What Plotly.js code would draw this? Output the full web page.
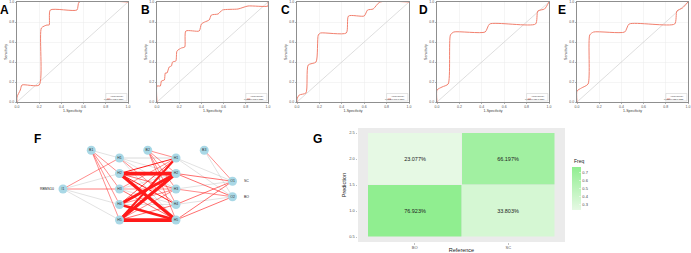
<!DOCTYPE html>
<html><head><meta charset="utf-8">
<script src="https://cdn.plot.ly/plotly-3.0.1.min.js"></script>
<style>html,body{margin:0;padding:0;background:#fff}#chart{width:691px;height:253px}</style>
</head><body><div id="chart"></div>
<script>
// ---------- ROC data (1-Specificity, Sensitivity) ----------
const fprA = [0,0,0.03,0.045,0.2,0.22,0.27,0.29,0.3,0.54,0.56,1];
const tprA = [0,0.05,0.12,0.17,0.17,0.74,0.77,0.77,0.92,0.92,1,1];
const fprB = [0,0,0.03,0.04,0.066,0.075,0.09,0.11,0.13,0.14,0.17,0.18,0.22,0.25,0.26,0.38,0.40,0.43,0.47,0.49,0.55,0.59,0.73,0.82,1,1];
const tprB = [0,0.16,0.16,0.21,0.22,0.29,0.29,0.35,0.36,0.40,0.41,0.51,0.54,0.55,0.71,0.71,0.78,0.80,0.82,0.87,0.88,0.92,0.93,0.96,0.96,1];
const fprC = [0,0,0.02,0.08,0.1,0.17,0.19,0.21,0.44,0.46,0.6,0.63,0.68,0.74,1];
const tprC = [0,0.03,0.07,0.09,0.37,0.40,0.67,0.69,0.69,0.86,0.86,0.92,0.93,1,1];
const fprD = [0,0,0.045,0.1,0.12,0.15,0.43,0.47,0.88,0.9,0.96,1];
const tprD = [0,0.12,0.15,0.18,0.67,0.70,0.70,0.78,0.78,0.91,0.93,1];
const fprE = [0,0,0.04,0.1,0.115,0.15,0.43,0.47,0.88,0.9,0.95,1];
const tprE = [0,0.11,0.14,0.18,0.67,0.70,0.70,0.78,0.78,0.91,0.94,1];
const rocLetters = ['A','B','C','D','E'];
const aucLabels = ['0.779(0.672-0.886)','0.753(0.668-0.838)','0.762(0.667-0.857)','0.726(0.621-0.831)','0.727(0.622-0.832)'];
const rocTicks = [0,0.2,0.4,0.6,0.8,1];
const rocTickText = ['0.0','0.2','0.4','0.6','0.8','1.0'];

// ---------- Neural network (panel F) ----------
const nodeNames = ['I1','B1','H1','H2','H3','H4','H5','B2','H1','H2','H3','H4','H5','B3','O1','O2'];
const nodeLayer = [0,0.5,1,1,1,1,1,1.5,2,2,2,2,2,2.5,3,3];
const nodeRow   = [3,0.5,1,2,3,4,5,0.5,1,2,3,4,5,0.5,2.5,3.5];
const inputLabel = ['RBMS10'];
const outputLabels = ['SC','BO'];
const wI1 = [0.3,-0.3,0.45,-0.3,-0.3];          // I1 -> hidden1
const wB1 = [-0.3,0.4,0.4,0.4,0.4];             // B1 -> hidden1
const wH1H2 = [                                   // hidden1 (rows) -> hidden2 (cols)
  [-0.5,-0.4,-0.4,0.3,-0.3],
  [0.8,3.0,0.5,0.8,2.6],
  [0.4,-0.3,0.4,-0.4,0.5],
  [0.6,2.5,0.3,-0.3,2.0],
  [1.5,2.6,0.4,0.5,3.0]
];
const wB2 = [0.4,0.35,0.35,0.4,0.4];            // B2 -> hidden2
const wH2O = [[-0.3,-0.3],[0.5,0.5],[-0.3,0.4],[0.5,-0.3],[0.5,0.5]]; // hidden2 -> outputs
const wB3 = [0.4,-0.3];                          // B3 -> outputs

// ---------- Confusion matrix (panel G) ----------
const refCats = ['BO','SC'];
const predLevels = [1,2];
const freq = [[0.76923,0.33803],[0.23077,0.66197]]; // rows: prediction 1,2 ; cols: BO, SC
const freqTicks = [0.3,0.4,0.5,0.6,0.7];

const W = 691, H = 253;
const traces = [];
const annotations = [];
const shapes = [];
const layout = {
  width: W, height: H, margin:{l:0,r:0,t:0,b:0},
  paper_bgcolor:'#fff', plot_bgcolor:'rgba(0,0,0,0)', showlegend:false,
  font:{family:'Liberation Sans, Arial, sans-serif', color:'#333'}
};

// ROC panels
const rocData = [[fprA,tprA],[fprB,tprB],[fprC,tprC],[fprD,tprD],[fprE,tprE]];
const rocPx = [[17,128],[157,268],[297,409],[437,549],[577,688]];
const letterPx = [4.5,145,285,423,562];
rocData.forEach((d,i)=>{
  const s = i===0 ? '' : String(i+1);
  const xa = 'x'+s, ya = 'y'+s;
  traces.push({type:'scatter', mode:'lines', x:[0,1], y:[0,1], xaxis:xa, yaxis:ya,
    line:{color:'#c8c8c8', width:0.6}, hoverinfo:'skip'});
  traces.push({type:'scatter', mode:'lines', x:d[0], y:d[1], xaxis:xa, yaxis:ya,
    line:{color:'#f2806e', width:1, shape:'spline', smoothing:0.6}});
  const common = {range:[0,1], tickvals:rocTicks, ticktext:rocTickText, tickfont:{size:3.5, color:'#555'},
    showgrid:true, gridcolor:'#ececec', gridwidth:0.5, zeroline:false, showline:true, mirror:true,
    linecolor:'#444', linewidth:0.6, ticks:'outside', ticklen:1.5, tickwidth:0.4, tickcolor:'#444', fixedrange:true};
  layout['xaxis'+s] = Object.assign({}, common, {domain:[rocPx[i][0]/W, rocPx[i][1]/W], anchor:ya,
    title:{text:'1-Specificity', font:{size:3.5, color:'#333'}, standoff:1}});
  layout['yaxis'+s] = Object.assign({}, common, {domain:[1-102/H, 1-2/H], anchor:xa,
    title:{text:'Sensitivity', font:{size:3.5, color:'#333'}, standoff:1}});
  // legend box
  shapes.push({type:'rect', xref:xa+' domain', yref:ya+' domain', x0:0.8, x1:0.99, y0:0.01, y1:0.085,
    line:{color:'#bbb', width:0.4}, fillcolor:'#fff'});
  annotations.push({xref:xa+' domain', yref:ya+' domain', x:0.985, y:0.065, text:'AUC(95%CI)', showarrow:false,
    font:{size:2.3, color:'#333'}, xanchor:'right', yanchor:'middle'});
  shapes.push({type:'line', xref:xa+' domain', yref:ya+' domain', x0:0.81, x1:0.84, y0:0.03, y1:0.03,
    line:{color:'#f2806e', width:0.8}});
  annotations.push({xref:xa+' domain', yref:ya+' domain', x:0.985, y:0.03, text:aucLabels[i], showarrow:false,
    font:{size:2.3, color:'#333'}, xanchor:'right', yanchor:'middle'});
  annotations.push({xref:'paper', yref:'paper', x:letterPx[i]/W, y:1-10/H, text:'<b>'+rocLetters[i]+'</b>',
    showarrow:false, font:{size:12, color:'#000', family:'Liberation Sans, Arial'}, xanchor:'center', yanchor:'middle'});
});

// Network panel F
const edges = [];
wI1.forEach((w,j)=>edges.push([0,2+j,w]));
wB1.forEach((w,j)=>edges.push([1,2+j,w]));
wH1H2.forEach((row,i)=>row.forEach((w,j)=>edges.push([2+i,8+j,w])));
wB2.forEach((w,j)=>edges.push([7,8+j,w]));
wH2O.forEach((row,i)=>row.forEach((w,j)=>edges.push([8+i,14+j,w])));
wB3.forEach((w,j)=>edges.push([13,14+j,w]));
edges.sort((a,b)=>Math.abs(a[2])-Math.abs(b[2]));
edges.filter(e=>e[2]<0).concat(edges.filter(e=>e[2]>0)).forEach(e=>{
  traces.push({type:'scatter', mode:'lines', xaxis:'x6', yaxis:'y6',
    x:[nodeLayer[e[0]], nodeLayer[e[1]]], y:[nodeRow[e[0]], nodeRow[e[1]]],
    line:{color: e[2]>0 ? '#ff1a1a' : '#c4c4c4', width: Math.max(0.5, Math.abs(e[2])*1.25)}, hoverinfo:'skip'});
});
traces.push({type:'scatter', mode:'markers+text', xaxis:'x6', yaxis:'y6', x:nodeLayer, y:nodeRow, text:nodeNames,
  marker:{size:9, color:'#a9d8e6', line:{width:0}}, textfont:{size:3.5, color:'#333'}, textposition:'middle center'});
annotations.push({xref:'x6', yref:'y6', x:nodeLayer[0], y:nodeRow[0], text:inputLabel[0], showarrow:false,
  xanchor:'right', yanchor:'middle', xshift:-7, font:{size:3.5, color:'#222'}});
outputLabels.forEach((t,k)=>annotations.push({xref:'x6', yref:'y6', x:nodeLayer[14+k], y:nodeRow[14+k], text:t,
  showarrow:false, xanchor:'left', yanchor:'middle', xshift:9, font:{size:3.5, color:'#222'}}));
layout.xaxis6 = {domain:[0,300/W], range:[-63/56.5, (300-63)/56.5], visible:false, fixedrange:true, anchor:'y6'};
layout.yaxis6 = {domain:[0,143/H], range:[1+95/15.5, 1-48/15.5], visible:false, fixedrange:true, anchor:'x6'};
annotations.push({xref:'paper', yref:'paper', x:37/W, y:1-139/H, text:'<b>F</b>', showarrow:false,
  font:{size:12, color:'#000'}, xanchor:'center', yanchor:'middle'});

// Confusion heatmap panel G
traces.push({type:'heatmap', xaxis:'x7', yaxis:'y7', x:[1,2], y:predLevels, z:freq,
  text:freq.map(r=>r.map(v=>(v*100).toFixed(3)+'%')), texttemplate:'%{text}', textfont:{size:5.5, color:'#222'},
  zmin:0.23077, zmax:0.76923, colorscale:[[0,'#e6f9e4'],[1,'#90ee90']], xgap:0.5, ygap:0.5,
  colorbar:{x:572/W, xanchor:'left', y:1-188.5/H, yanchor:'middle', len:43/H, lenmode:'fraction', thickness:9,
    xpad:0, ypad:0, outlinewidth:0, tickvals:freqTicks, ticktext:freqTicks.map(v=>v.toFixed(1)),
    tickfont:{size:4, color:'#444'}, ticks:'inside', ticklen:2, tickcolor:'#fff', tickwidth:0.5, ticklabelpad:2}});
annotations.push({xref:'paper', yref:'paper', x:572/W, y:1-161/H, text:'Freq', showarrow:false,
  font:{size:5, color:'#222'}, xanchor:'left', yanchor:'middle'});
shapes.push({type:'rect', xref:'x7 domain', yref:'y7 domain', x0:0, x1:1, y0:0, y1:1, fillcolor:'#ebebeb', line:{width:0}, layer:'below'});
layout.xaxis7 = {domain:[358/W, 565/W], range:[0.5-10/93.5, 2.5+10/93.5], tickvals:[1,2], ticktext:refCats,
  tickfont:{size:4, color:'#555'}, ticks:'outside', ticklen:1.5, tickwidth:0.4, tickcolor:'#666', showgrid:false, zeroline:false,
  anchor:'y7', fixedrange:true, title:{text:'Reference', font:{size:5.5, color:'#222'}, standoff:3}};
layout.yaxis7 = {domain:[1-242/H, 1-128/H], range:[0.5-5/52, 2.5+5/52], tickvals:[0.5,1,1.5,2,2.5],
  ticktext:['0.5','1.0','1.5','2.0','2.5'], tickfont:{size:4, color:'#555'}, ticks:'outside', ticklen:1.5, tickwidth:0.4,
  tickcolor:'#666', showgrid:false, zeroline:false, anchor:'x7', fixedrange:true,
  title:{text:'Prediction', font:{size:5.5, color:'#222'}, standoff:2}};
annotations.push({xref:'paper', yref:'paper', x:317/W, y:1-139/H, text:'<b>G</b>', showarrow:false,
  font:{size:12, color:'#000'}, xanchor:'center', yanchor:'middle'});

layout.annotations = annotations;
layout.shapes = shapes;
Plotly.newPlot('chart', traces, layout, {displayModeBar:false, staticPlot:true});
</script></body></html>
